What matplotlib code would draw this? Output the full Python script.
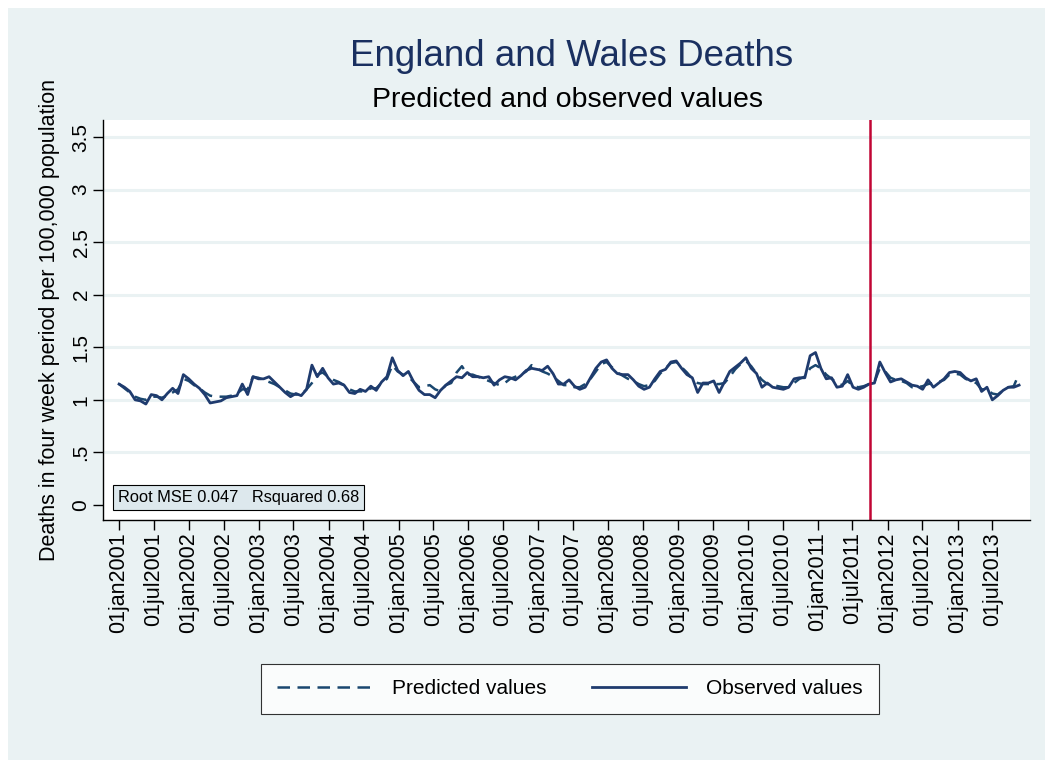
import numpy as np
import matplotlib
matplotlib.use("Agg")
import matplotlib.pyplot as plt
from matplotlib.patches import Rectangle

plt.rcParams['font.family'] = ['Liberation Sans', 'DejaVu Sans']

# four-week periods starting 1 Jan 2001
start_date = np.datetime64('2001-01-01')
period_days = 28

observed = [
    1.15, 1.12, 1.08, 1.00, 0.99, 0.96, 1.05, 1.04, 1.00, 1.06, 1.11, 1.06, 1.24,
    1.20, 1.15, 1.11, 1.05, 0.97, 0.98, 0.99, 1.02, 1.03, 1.04, 1.15, 1.05, 1.22,
    1.20, 1.20, 1.22, 1.17, 1.12, 1.07, 1.03, 1.06, 1.04, 1.10, 1.33, 1.22, 1.30,
    1.21, 1.15, 1.16, 1.14, 1.07, 1.06, 1.10, 1.08, 1.13, 1.09, 1.17, 1.22, 1.40,
    1.28, 1.23, 1.27, 1.17, 1.09, 1.05, 1.05, 1.02, 1.09, 1.14, 1.18, 1.22, 1.21,
    1.26, 1.22, 1.22, 1.21, 1.22, 1.14, 1.19, 1.22, 1.21, 1.19, 1.23, 1.28, 1.30,
    1.29, 1.28, 1.32, 1.25, 1.15, 1.15, 1.19, 1.13, 1.10, 1.12, 1.21, 1.30, 1.36,
    1.38, 1.30, 1.25, 1.24, 1.24, 1.19, 1.13, 1.10, 1.12, 1.20, 1.27, 1.29, 1.36,
    1.37, 1.30, 1.24, 1.21, 1.07, 1.16, 1.16, 1.18, 1.07, 1.17, 1.27, 1.31, 1.35,
    1.40, 1.30, 1.25, 1.12, 1.16, 1.12, 1.11, 1.10, 1.12, 1.20, 1.21, 1.21, 1.42,
    1.45, 1.30, 1.20, 1.21, 1.12, 1.13, 1.24, 1.12, 1.10, 1.12, 1.15, 1.16, 1.36,
    1.26, 1.17, 1.19, 1.20, 1.17, 1.14, 1.13, 1.10, 1.19, 1.12, 1.16, 1.20, 1.26,
    1.27, 1.26, 1.21, 1.18, 1.20, 1.08, 1.12, 1.00, 1.04, 1.09, 1.12, 1.12, 1.14,
]

predicted = [
    1.15, 1.11, 1.07, 1.03, 1.01, 1.00, 1.03, 1.03, 1.02, 1.04, 1.07, 1.10, 1.20,
    1.18, 1.14, 1.11, 1.07, 1.04, 1.03, 1.03, 1.03, 1.04, 1.06, 1.10, 1.10, 1.22,
    1.21, 1.19, 1.17, 1.15, 1.12, 1.09, 1.06, 1.05, 1.05, 1.10, 1.16, 1.24, 1.26,
    1.22, 1.19, 1.17, 1.14, 1.10, 1.08, 1.08, 1.08, 1.11, 1.11, 1.16, 1.20, 1.33,
    1.27, 1.24, 1.22, 1.17, 1.12, 1.13, 1.14, 1.10, 1.08, 1.14, 1.16, 1.26, 1.32,
    1.24, 1.24, 1.22, 1.20, 1.18, 1.16, 1.14, 1.16, 1.20, 1.22, 1.24, 1.27, 1.33,
    1.30, 1.27, 1.25, 1.22, 1.18, 1.14, 1.14, 1.12, 1.12, 1.15, 1.20, 1.27, 1.34,
    1.36, 1.31, 1.26, 1.23, 1.20, 1.18, 1.15, 1.13, 1.14, 1.18, 1.25, 1.30, 1.35,
    1.36, 1.31, 1.26, 1.20, 1.16, 1.15, 1.15, 1.15, 1.15, 1.16, 1.22, 1.29, 1.34,
    1.37, 1.32, 1.25, 1.19, 1.15, 1.14, 1.13, 1.12, 1.12, 1.16, 1.20, 1.22, 1.30,
    1.33, 1.30, 1.24, 1.20, 1.16, 1.14, 1.18, 1.13, 1.12, 1.13, 1.15, 1.17, 1.30,
    1.27, 1.21, 1.19, 1.18, 1.16, 1.12, 1.12, 1.13, 1.15, 1.16, 1.17, 1.19, 1.24,
    1.25, 1.24, 1.20, 1.18, 1.16, 1.10, 1.10, 1.06, 1.05, 1.09, 1.12, 1.13, 1.25,
]

cutoff_date = '2011-10-01'
y_ticks = [0, 0.5, 1, 1.5, 2, 2.5, 3, 3.5]
y_tick_labels = ['0', '.5', '1', '1.5', '2', '2.5', '3', '3.5']
tick_years = list(range(2001, 2014))

navy = '#1f3b6e'
pred_color = '#1a476f'
bg = '#eaf2f3'

dates = start_date + period_days * np.arange(len(observed))
dates = dates.astype('datetime64[D]').astype(object)

tick_dates = []
tick_labels = []
for yr in tick_years:
    for mon, name in ((1, 'jan'), (7, 'jul')):
        tick_dates.append(np.datetime64(f'{yr}-{mon:02d}-01').astype(object))
        tick_labels.append(f'01{name}{yr}')

fig = plt.figure(figsize=(10.53, 7.67), dpi=100)
fig.patch.set_facecolor('white')
fig.patches.append(Rectangle((8 / 1053, 7 / 767), 1037 / 1053, 752 / 767,
                             transform=fig.transFigure, facecolor=bg,
                             edgecolor='none', zorder=-10))

ax = fig.add_axes([103 / 1053, 1 - 520 / 767, 927 / 1053, 400 / 767])
ax.set_facecolor('white')

ax.plot(dates, predicted, linestyle=(0, (5, 3)), color=pred_color,
        linewidth=1.8, label='Predicted values')
ax.plot(dates, observed, linestyle='-', color=navy, linewidth=2.0,
        label='Observed values')
ax.axvline(np.datetime64(cutoff_date).astype(object), color='#c10534',
           linewidth=1.8)

ax.set_ylim(-0.143, 3.662)
ax.set_yticks(y_ticks)
ax.set_yticklabels(y_tick_labels, rotation=90, va='center', fontsize=15)
for y in y_ticks[1:]:
    ax.axhline(y, color=bg, linewidth=2.2, zorder=0)

ax.set_xlim(np.datetime64('2000-10-09').astype(object),
            np.datetime64('2014-01-14').astype(object))
ax.set_xticks(tick_dates)
ax.set_xticklabels(tick_labels, rotation=90, fontsize=15.5)
ax.tick_params(axis='both', length=7, width=1, direction='out', pad=2)

for side in ('top', 'right'):
    ax.spines[side].set_visible(False)
for side in ('left', 'bottom'):
    ax.spines[side].set_linewidth(1)

ax.set_ylabel('Deaths in four week period per 100,000 population',
              fontsize=15.5, labelpad=8)

fig.text(572 / 1053, 1 - 57 / 767, 'England and Wales Deaths', ha='center',
         va='center', fontsize=26.5, color='#1a3060')
fig.text(567 / 1053, 1 - 100 / 767, 'Predicted and observed values',
         ha='center', va='center', fontsize=20.5, color='black')

ax.text(0.0165, 0.057, 'Root MSE 0.047   Rsquared 0.68', transform=ax.transAxes,
        fontsize=11.8, va='center', ha='left',
        bbox=dict(boxstyle='square,pad=0.3', facecolor='#dde8ed',
                  edgecolor='black', linewidth=0.8))

leg = fig.legend(loc='center', bbox_to_anchor=(570 / 1053, 1 - 689 / 767),
                 ncol=2, fontsize=15, frameon=True, fancybox=False,
                 handlelength=4.5, columnspacing=2.2, borderpad=0.75,
                 handletextpad=1.0)
leg.get_frame().set_edgecolor('black')
leg.get_frame().set_linewidth(0.8)

fig.savefig('out.png', dpi=100, facecolor=fig.get_facecolor())
